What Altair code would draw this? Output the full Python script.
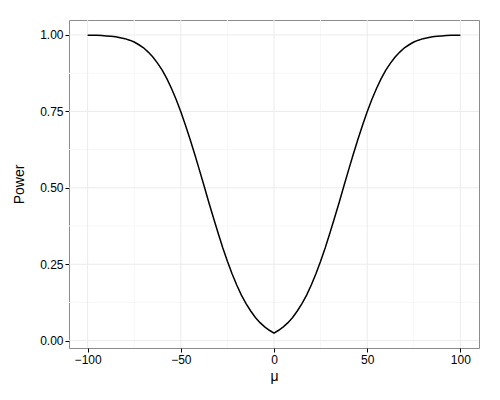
import altair as alt
import pandas as pd

# Values
mu = [-100, -97.5, -95, -92.5, -90, -87.5, -85, -82.5, -80, -77.5, -75, -72.5, -70, -67.5,
      -65, -62.5, -60, -57.5, -55, -52.5, -50, -47.5, -45, -42.5, -40, -37.5, -35, -32.5,
      -30, -27.5, -25, -22.5, -20, -17.5, -15, -12.5, -10, -7.5, -5, -2.5, 0,
      2.5, 5, 7.5, 10, 12.5, 15, 17.5, 20, 22.5, 25, 27.5, 30, 32.5, 35, 37.5, 40, 42.5,
      45, 47.5, 50, 52.5, 55, 57.5, 60, 62.5, 65, 67.5, 70, 72.5, 75, 77.5, 80, 82.5,
      85, 87.5, 90, 92.5, 95, 97.5, 100]
power = [0.9995, 0.9992, 0.9988, 0.998, 0.997, 0.996, 0.994, 0.991, 0.988, 0.983, 0.977, 0.968,
         0.958, 0.944, 0.928, 0.908, 0.885, 0.857, 0.825, 0.789, 0.749, 0.705, 0.658, 0.609,
         0.558, 0.506, 0.453, 0.402, 0.352, 0.304, 0.260, 0.219, 0.182, 0.149, 0.121, 0.097,
         0.076, 0.059, 0.045, 0.034, 0.025,
         0.034, 0.045, 0.059, 0.076, 0.097, 0.121, 0.149, 0.182, 0.219, 0.260, 0.304, 0.352,
         0.402, 0.453, 0.506, 0.558, 0.609, 0.658, 0.705, 0.749, 0.789, 0.825, 0.857, 0.885,
         0.908, 0.928, 0.944, 0.958, 0.968, 0.977, 0.983, 0.988, 0.991, 0.994, 0.996, 0.997,
         0.998, 0.9988, 0.9992, 0.9995]

x_major = [-100, -50, 0, 50, 100]
x_minor = [-75, -25, 25, 75]
y_major = [0, 0.25, 0.5, 0.75, 1.0]
y_minor = [0.125, 0.375, 0.625, 0.875]

df = pd.DataFrame({"mu": mu, "power": power})

xscale = alt.Scale(domain=[-110, 110], nice=False, zero=False)
yscale = alt.Scale(domain=[-0.024, 1.049], nice=False, zero=False)
xaxis = alt.Axis(values=x_major, grid=False, format="d",
                 labelExpr="replace(datum.label, '-', '−')")
yaxis = alt.Axis(values=y_major, grid=False, format=".2f")


def vrules(vals, color):
    return alt.Chart(pd.DataFrame({"v": vals})).mark_rule(color=color, strokeWidth=1).encode(
        x=alt.X("v:Q", scale=xscale, axis=xaxis, title="μ"))


def hrules(vals, color):
    return alt.Chart(pd.DataFrame({"v": vals})).mark_rule(color=color, strokeWidth=1).encode(
        y=alt.Y("v:Q", scale=yscale, axis=yaxis, title="Power"))


grid = alt.layer(
    vrules(x_minor, "#F7F7F7"),
    hrules(y_minor, "#F7F7F7"),
    vrules(x_major, "#EBEBEB"),
    hrules(y_major, "#EBEBEB"),
)

line = alt.Chart(df).mark_line(color="black", strokeWidth=1.5).encode(
    x=alt.X("mu:Q", scale=xscale, title="μ", axis=xaxis),
    y=alt.Y("power:Q", scale=yscale, title="Power", axis=yaxis),
)

chart = alt.layer(grid, line).properties(
    width=410, height=328,
    autosize=alt.AutoSizeParams(type="none"),
    padding={"left": 61, "top": 12, "right": 13, "bottom": 44},
).configure_view(
    stroke="#8C8C8C", strokeWidth=1
).configure_axis(
    domain=False,
    tickColor="black", tickSize=4, tickWidth=1,
    labelColor="black", labelFont="Liberation Sans", labelFontSize=12,
    labelPadding=2,
    titleFont="Liberation Sans", titleFontSize=14, titleFontWeight="normal", titleColor="black",
).configure_axisY(
    titlePadding=13
).configure_axisX(
    titlePadding=4
)

chart.save("out.html", embed_options={"renderer": "svg", "actions": False})
